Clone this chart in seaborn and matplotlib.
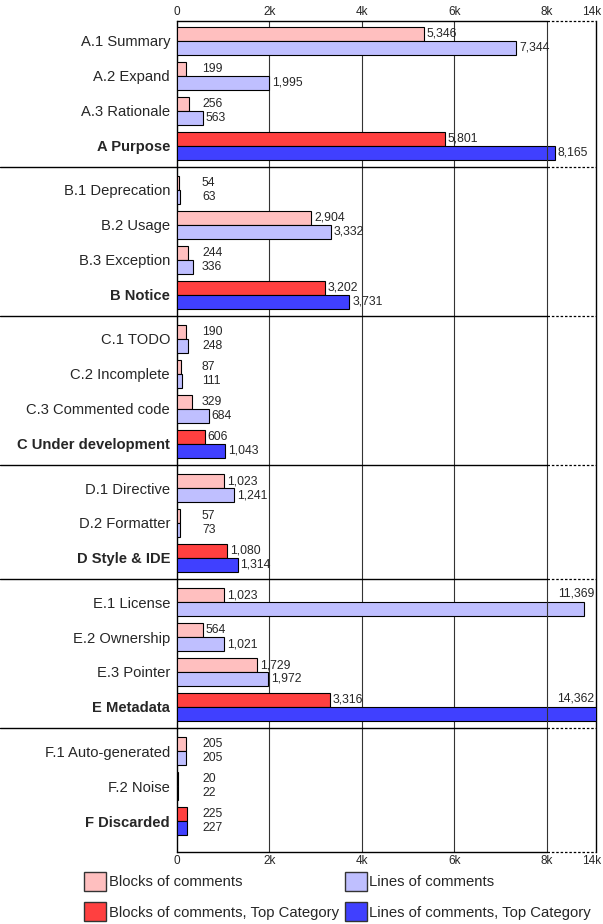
import numpy as np
import pandas as pd
import seaborn as sns
import matplotlib
matplotlib.use('Agg')
from matplotlib import pyplot as plt
from matplotlib.patches import Patch
import matplotlib.transforms as mtransforms

sns.set_style('white')
plt.rcParams['font.family'] = ['Liberation Sans', 'DejaVu Sans']

#%% data
labels = ['A.1 Summary', 'A.2 Expand', 'A.3 Rationale', 'A Purpose',
          'B.1 Deprecation', 'B.2 Usage', 'B.3 Exception', 'B Notice',
          'C.1 TODO', 'C.2 Incomplete', 'C.3 Commented code', 'C Under development',
          'D.1 Directive', 'D.2 Formatter', 'D Style & IDE',
          'E.1 License', 'E.2 Ownership', 'E.3 Pointer', 'E Metadata',
          'F.1 Auto-generated', 'F.2 Noise', 'F Discarded']
groups = ['A'] * 4 + ['B'] * 4 + ['C'] * 4 + ['D'] * 3 + ['E'] * 4 + ['F'] * 3
is_top = [False, False, False, True] * 3 + [False, False, True] + [False, False, False, True] + [False, False, True]
blocks = [5346, 199, 256, 5801, 54, 2904, 244, 3202, 190, 87, 329, 606,
          1023, 57, 1080, 1023, 564, 1729, 3316, 205, 20, 225]
lines = [7344, 1995, 563, 8165, 63, 3332, 336, 3731, 248, 111, 684, 1043,
         1241, 73, 1314, 11369, 1021, 1972, 14362, 205, 22, 227]

xticks = [0, 2000, 4000, 6000, 8000, 14000]
xticklabels = ['0', '2k', '4k', '6k', '8k', '14k']

m_blocks, m_lines = 'Blocks of comments', 'Lines of comments'
m_blocks_top, m_lines_top = 'Blocks of comments, Top Category', 'Lines of comments, Top Category'
colors = {m_blocks: '#ffbfbf', m_lines: '#bfbfff', m_blocks_top: '#ff4040', m_lines_top: '#4040ff'}

#%% positions (small extra gap between groups)
gap = 0.26
gidx = pd.Series(groups).astype('category').cat.codes.values
pos = np.arange(len(labels)) + gidx * gap

rows = []
for i in range(len(labels)):
    top = is_top[i]
    rows.append(dict(pos=pos[i], value=blocks[i], top=top, measure=m_blocks_top if top else m_blocks))
    rows.append(dict(pos=pos[i], value=lines[i], top=top, measure=m_lines_top if top else m_lines))
df = pd.DataFrame(rows)
sub = df[~df['top']]
tops = df[df['top']]

#%% broken x scale: linear up to 8k, sqrt-compressed above
BRK, C = 8000, 13.8
def fwd(x):
    x = np.asarray(x, dtype=float)
    return np.where(x <= BRK, x, BRK + C * np.sqrt(np.maximum(x - BRK, 0)))
def inv(y):
    y = np.asarray(y, dtype=float)
    return np.where(y <= BRK, y, BRK + ((np.maximum(y, BRK) - BRK) / C) ** 2)

fig = plt.figure(figsize=(6.03, 9.24), dpi=100)
ax = fig.add_axes([177 / 603, 1 - 852 / 924, 419 / 603, 831 / 924])

sns.barplot(data=sub, x='value', y='pos', hue='measure', hue_order=[m_blocks, m_lines],
            palette=colors, orient='y', native_scale=True, errorbar=None, width=0.8,
            saturation=1, edgecolor='black', linewidth=0.8, legend=False, ax=ax, zorder=3)
top_pos = np.sort(tops['pos'].unique())
w_top = 0.8 / np.diff(top_pos).min()
sns.barplot(data=tops, x='value', y='pos', hue='measure', hue_order=[m_blocks_top, m_lines_top],
            palette=colors, orient='y', native_scale=True, errorbar=None, width=w_top,
            saturation=1, edgecolor='black', linewidth=0.8, legend=False, ax=ax, zorder=3)

ax.set_xscale('function', functions=(fwd, inv))
ax.set_xlim(0, 14000)
ax.set_ylim(pos[-1] + 0.886, -0.571)

ax.set_yticks(pos)
ax.set_yticklabels(labels, fontsize=10.6)
for t, top in zip(ax.get_yticklabels(), is_top):
    if top:
        t.set_fontweight('bold')
ax.set_xticks(xticks)
ax.set_xticklabels(xticklabels, fontsize=8.5)
ax.tick_params(axis='x', top=True, labeltop=True, bottom=True, labelbottom=True, length=0, pad=2)
ax.tick_params(axis='y', length=0, pad=5)
ax.set_xlabel('')
ax.set_ylabel('')

# keep the last tick label ("14k") inside the figure
shift = mtransforms.ScaledTranslation(5 / 100, 0, fig.dpi_scale_trans)
for t in ax.xaxis.get_majorticklabels() + ax.xaxis.get_ticklabels(which='major', minor=False):
    pass
for tick in ax.xaxis.get_major_ticks()[-1:]:
    for lab in (tick.label1, tick.label2):
        lab.set_horizontalalignment('right')
        lab.set_transform(lab.get_transform() + shift)

for s in ['top', 'bottom']:
    ax.spines[s].set_visible(False)
for s in ['left', 'right']:
    ax.spines[s].set_color('black')
    ax.spines[s].set_linewidth(1)

# grid lines
for x in xticks[1:4]:
    ax.axvline(x, color='#333333', lw=0.8, zorder=1)
ax.axvline(BRK, color='#333333', lw=0.8, zorder=5)

# top/bottom axis lines and group separators, dashed in the compressed part
blend = mtransforms.blended_transform_factory(ax.transAxes, ax.transData)
ylo, yhi = ax.get_ylim()
seps = [pos[i] + 0.6 for i in range(len(labels) - 1) if groups[i] != groups[i + 1]]
for y in [yhi, ylo] + seps:
    ax.plot([0, BRK], [y, y], color='black', lw=1, zorder=6, clip_on=False)
    ax.plot([BRK, 14000], [y, y], color='black', lw=0.9, ls=(0, (2, 1.5)), zorder=6, clip_on=False)
for y in seps:
    ax.plot([-177 / 419, 0], [y, y], color='black', lw=1, transform=blend, clip_on=False)

# value labels; ones that would run past the edge go right-aligned above the bar
for i in range(len(labels)):
    for v, dy in [(blocks[i], -0.2), (lines[i], 0.2)]:
        if fwd(v) + 750 > fwd(14000):
            ax.annotate(f'{v:,}', xy=(14000, pos[i] - 0.25), xytext=(-1, 0),
                        textcoords='offset points', ha='right', va='center', fontsize=8.8, zorder=7)
        else:
            ax.annotate(f'{v:,}', xy=(max(v, 480), pos[i] + dy), xytext=(2, 0),
                        textcoords='offset points', ha='left', va='center', fontsize=8.8, zorder=7)

handles = [Patch(facecolor=colors[m], edgecolor='#333333', lw=1)
           for m in [m_blocks, m_blocks_top, m_lines, m_lines_top]]
fig.legend(handles, [m_blocks, m_blocks_top, m_lines, m_lines_top], ncol=2,
           loc='upper left', bbox_to_anchor=(84 / 603, 1 - 872 / 924), frameon=False,
           fontsize=10.7, handlelength=1.5, handleheight=1.6, handletextpad=0.15,
           labelspacing=0.75, columnspacing=0.4, borderpad=0, borderaxespad=0)

fig.savefig('out.png', dpi=100)
